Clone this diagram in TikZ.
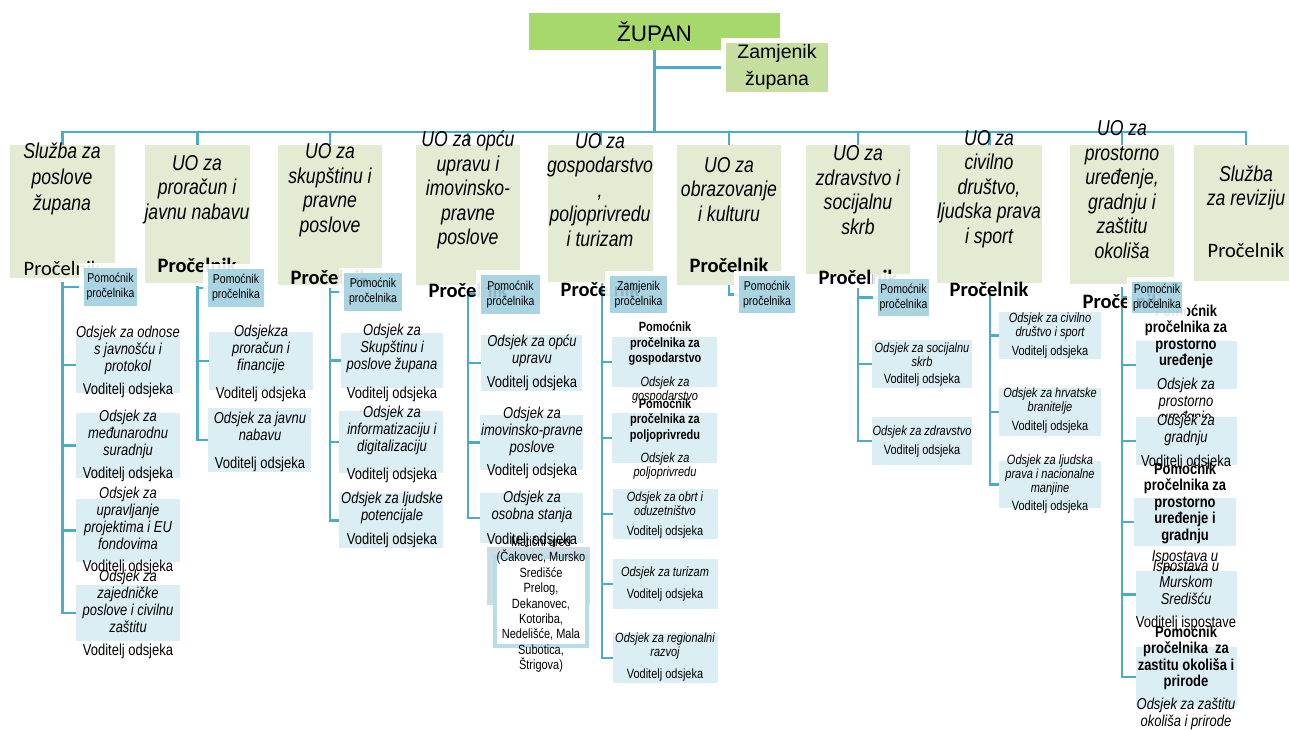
\documentclass[tikz,border=0pt]{standalone}
\usepackage{fontspec}
\setmainfont{Liberation Sans}[FakeStretch=0.82]
\newfontfamily\widefont{Liberation Sans}
\newfontfamily\calfont{Carlito}
\usetikzlibrary{backgrounds}
\definecolor{conncol}{RGB}{75,172,198}
\definecolor{topfill}{RGB}{227,235,211}
\definecolor{zupfill}{RGB}{166,216,108}
\definecolor{zamfill}{RGB}{198,222,160}
\definecolor{pfill}{RGB}{160,207,222}
\definecolor{cfill}{RGB}{219,238,243}
\definecolor{mborder}{RGB}{183,222,232}
\definecolor{hidfill}{RGB}{205,221,228}
\newcommand\cbox[5]{\node[cbx, minimum width={(#4)-(#2)}, minimum height={(#5)-(#3)}] (#1) at ({((#2)+(#4))/2},{((#3)+(#5))/2}) {};}
\newcommand\tbx[5]{\node[tbox, minimum width={(#4)-(#2)}, minimum height={(#5)-(#3)}] (#1) at ({((#2)+(#4))/2},{((#3)+(#5))/2}) {};}
\newcommand\pbx[6]{\node[pbox, minimum width={(#4)-(#2)}, minimum height={(#5)-(#3)}] (#1) at ({((#2)+(#4))/2},{((#3)+(#5))/2}) {#6};}
\begin{document}
\begin{tikzpicture}[x=1pt,y=-1pt,
 link/.style={draw=conncol, line width=2.2pt},
 tbox/.style={fill=topfill, inner sep=0, draw=none},
 cbx/.style={fill=cfill, inner sep=0, draw=none},
 ttl/.style={font=\itshape\fontsize{21.5}{24.5}\selectfont, align=center, inner sep=0},
 pro/.style={font=\calfont\bfseries\fontsize{20.5}{24}\selectfont, inner sep=0},
 proreg/.style={font=\calfont\fontsize{20.5}{24}\selectfont, inner sep=0},
 itA/.style={font=\itshape\fontsize{15.8}{17}\selectfont, align=center, inner sep=0},
 rgA/.style={font=\fontsize{15.8}{17}\selectfont, align=center, inner sep=0},
 itB/.style={font=\itshape\fontsize{13.4}{14}\selectfont, align=center, inner sep=0},
 rgB/.style={font=\fontsize{13.4}{14}\selectfont, align=center, inner sep=0},
 bfB/.style={font=\bfseries\fontsize{13.4}{15.5}\selectfont, align=center, inner sep=0},
 bfA/.style={font=\bfseries\fontsize{15.8}{16.5}\selectfont, align=center, inner sep=0},
 itC/.style={font=\itshape\fontsize{15.8}{16.5}\selectfont, align=center, inner sep=0},
 pbox/.style={fill=pfill, fill opacity=.88, text opacity=1, inner sep=0, align=center,
   font=\fontsize{12.8}{15}\selectfont, preaction={draw=white, draw opacity=.9, line width=10pt}},
]
\useasboundingbox (0,0) rectangle (1289,729);

% top
\node[fill=zupfill, inner sep=0, minimum width=251, minimum height=37,
  font=\widefont\fontsize{22.5}{26}\selectfont] (zupan) at (654.5,31.5) {ŽUPAN};
\node[fill=zamfill, inner sep=0, minimum width=102, minimum height=49,
  preaction={draw=white, line width=10pt}] (zam) at (777,67.5) {};
\node[font=\widefont\fontsize{19.5}{27}\selectfont, align=center, inner sep=0] (zamt) at (777,66.5) {Zamjenik\\župana};

% top-level boxes
\tbx{t1}{10}{145}{115}{278}
\tbx{t2}{145}{145}{250}{283}
\tbx{t3}{278}{145}{382}{285}
\tbx{t4}{416}{145}{520}{285}
\tbx{t5}{548}{145}{653}{282}
\tbx{t6}{677}{145}{781}{285}
\tbx{t7}{806}{145}{910}{274}
\tbx{t8}{937}{145}{1042}{283}
\tbx{t9}{1070}{145}{1174}{284}
\tbx{t10}{1194}{145}{1298}{281}

\node[ttl, font=\itshape\fontsize{21.5}{26}\selectfont] (tt1) at (62,179) {Služba za\\poslove\\župana};
\node[ttl] (tt2) at (197,189.5) {UO za\\proračun i\\javnu nabavu};
\node[ttl] (tt3) at (330,190) {UO za\\skupštinu i\\pravne\\poslove};
\node[ttl] (tt4) at (468,190) {UO za opću\\upravu i\\imovinsko-\\pravne\\poslove};
\node[ttl] (tt5) at (600,190) {UO za\\gospodarstvo\\,\\poljoprivredu\\i turizam};
\node[ttl] (tt6) at (729,189.5) {UO za\\obrazovanje\\i kulturu};
\node[ttl] (tt7) at (858,190) {UO za\\zdravstvo i\\socijalnu\\skrb};
\node[ttl] (tt8) at (989,189) {UO za\\civilno\\društvo,\\ljudska prava\\i sport};
\node[ttl] (tt9) at (1122,189.5) {UO za\\prostorno\\uređenje,\\gradnju i\\zaštitu\\okoliša};
\node[ttl] (tt10) at (1246,188) {Služba\\za reviziju};

\node[proreg] (pr1) at (62,268) {Pročelnik};
\node[pro] (pr2) at (197,265) {Pročelnik};
\node[pro] (pr3) at (330,277) {Pročelnik};
\node[pro] (pr4) at (468,290) {Pročelnik};
\node[pro] (pr5) at (600,289) {Pročelnik};
\node[pro] (pr6) at (729,265) {Pročelnik};
\node[pro] (pr7) at (858,277) {Pročelnik};
\node[pro] (pr8) at (989,289) {Pročelnik};
\node[pro] (pr9) at (1122,301) {Pročelnik};
\node[proreg] (pr10) at (1246,250) {Pročelnik};

% column 1
\cbox{c1a}{76}{337}{180}{393}
\node[itA] at (128,350) {Odsjek za odnose\\s javnošću i\\protokol};
\node[rgA] at (128,390) {Voditelj odsjeka};
\cbox{c1b}{76}{413}{180}{478}
\node[itA] at (128,434) {Odsjek za\\međunarodnu\\suradnju};
\node[rgA] at (128,474) {Voditelj odsjeka};
\cbox{c1c}{76}{499}{180}{562}
\node[itA] at (128,518.5) {Odsjek za\\upravljanje\\projektima i EU\\fondovima};
\node[rgA] at (128,567) {Voditelj odsjeka};
\cbox{c1d}{76}{585}{180}{641}
\node[itA] at (128,601) {Odsjek za\\zajedničke\\poslove i civilnu\\zaštitu};
\node[rgA] at (128,651) {Voditelj odsjeka};

% column 2
\cbox{c2a}{209}{332}{313}{390}
\node[itA] at (261,349) {Odsjekza\\proračun i\\financije};
\node[rgA] at (261,394) {Voditelj odsjeka};
\cbox{c2b}{208}{408}{311}{472}
\node[itA] at (260,426.5) {Odsjek za javnu\\nabavu};
\node[rgA] at (260,464) {Voditelj odsjeka};

% column 3
\cbox{c3a}{341}{333}{443}{388}
\node[itA] at (392,348) {Odsjek za\\Skupštinu i\\poslove župana};
\node[rgA] at (392,394) {Voditelj odsjeka};
\cbox{c3b}{339}{411}{443}{473}
\node[itA] at (392,430) {Odsjek za\\informatizaciju i\\digitalizaciju};
\node[rgA] at (392,475) {Voditelj odsjeka};
\cbox{c3c}{339}{493}{443}{548}
\node[itA] at (392,508) {Odsjek za ljudske\\potencijale};
\node[rgA] at (392,540) {Voditelj odsjeka};

% column 4
\cbox{c4a}{481}{335}{582}{391}
\node[itA] at (532,350.5) {Odsjek za opću\\upravu};
\node[rgA] at (532,383) {Voditelj odsjeka};
\cbox{c4b}{480}{415}{583}{470}
\node[itA] at (532,431) {Odsjek za\\imovinsko-pravne\\poslove};
\node[rgA] at (532,471) {Voditelj odsjeka};
\cbox{c4c}{480}{493}{583}{543}
\node[itA] at (532,506.5) {Odsjek za\\osobna stanja};
\node[rgA] at (532,540) {Voditelj odsjeka};
\node[fill=hidfill, inner sep=0, minimum width=103, minimum height=58] (hid) at (538.5,576) {};
\node[draw=mborder, line width=4pt, fill=white, minimum width=92, minimum height=89, inner sep=0] (mat) at (541,601.5) {};
\node[rgB, font=\fontsize{13.4}{15.4}\selectfont] (matt) at (541,604.5) {Matični ured\\(Čakovec, Mursko\\Središće\\Prelog,\\Dekanovec,\\Kotoriba,\\Nedelišće, Mala\\Subotica,\\Štrigova)};

% column 5
\cbox{c5a}{612}{337}{717}{387}
\node[bfB] at (665,343.5) {Pomoćnik\\pročelnika za\\gospodarstvo};
\node[itB] at (665,390) {Odsjek za\\gospodarstvo};
\cbox{c5b}{612}{413}{717}{463}
\node[bfB] at (665,420) {Pomoćnik\\pročelnika za\\poljoprivredu};
\node[itB] at (665,466) {Odsjek za\\poljoprivredu};
\cbox{c5c}{613}{489}{718}{539}
\node[itB] at (665,503.5) {Odsjek za obrt i\\oduzetništvo};
\node[rgB] at (665,532) {Voditelj odsjeka};
\cbox{c5d}{613}{559}{718}{609}
\node[itB] at (665,573) {Odsjek za turizam};
\node[rgB] at (665,595) {Voditelj odsjeka};
\cbox{c5e}{613}{633}{718}{683}
\node[itB] at (665,646) {Odsjek za regionalni\\razvoj};
\node[rgB] at (665,675) {Voditelj odsjeka};

% column 7
\cbox{c7a}{872}{340}{972}{388}
\node[itB] at (922,355) {Odsjek za socijalnu\\skrb};
\node[rgB] at (922,380) {Voditelj odsjeka};
\cbox{c7b}{872}{417}{972}{465}
\node[itB] at (922,432) {Odsjek za zdravstvo};
\node[rgB] at (922,451) {Voditelj odsjeka};

% column 8
\cbox{c8a}{999}{312}{1101}{359}
\node[itB] at (1050,326) {Odsjek za civilno\\društvo i sport};
\node[rgB] at (1050,352) {Voditelj odsjeka};
\cbox{c8b}{999}{388}{1101}{436}
\node[itB] at (1050,401.5) {Odsjek za hrvatske\\branitelje};
\node[rgB] at (1050,427) {Voditelj odsjeka};
\cbox{c8c}{999}{461}{1101}{508}
\node[itB] at (1050,475) {Odsjek za ljudska\\prava i nacionalne\\manjine};
\node[rgB] at (1050,507) {Voditelj odsjeka};

% column 9
\cbox{c9a}{1136}{341}{1237}{389}
\node[bfA] at (1186,337) {Pomoćnik\\pročelnika za\\prostorno\\uređenje};
\node[itC] at (1186,402) {Odsjek za\\prostorno\\uređenje};
\cbox{c9b}{1136}{417}{1237}{465}
\node[itC] at (1186,430) {Odsjek za\\gradnju};
\node[rgA] at (1186,462) {Voditelj odsjeka};
\cbox{c9c}{1134}{498}{1236}{546}
\node[bfA] at (1185,503) {Pomoćnik\\pročelnika za\\prostorno\\uređenje i\\gradnju};
\node[itC] at (1185,565.5) {Ispostava u\\Prelogu};
\cbox{c9d}{1136}{571}{1237}{618}
\node[itC] at (1186,582.5) {Ispostava u\\Murskom\\Središću};
\node[rgA] at (1186,623) {Voditelj ispostave};
\cbox{c9e}{1136}{647}{1237}{707}
\node[bfA] at (1186,658) {Pomoćnik\\pročelnika \ za\\zastitu okoliša i\\prirode};
\node[itC] at (1186,714) {Odsjek za zaštitu\\okoliša i prirode};

% assistant boxes
\pbx{p1}{84}{268}{137}{306}{Pomoćnik\\pročelnika}
\pbx{p2}{208}{269}{264}{307}{Pomoćnik\\pročelnika}
\pbx{p3}{344}{273}{402}{311}{Pomoćnik\\pročelnika}
\pbx{p4}{481}{275}{540}{314}{Pomoćnik\\pročelnika}
\pbx{z5}{610}{276}{667}{313}{Zamjenik\\pročelnika}
\pbx{p6}{739}{276}{795}{313}{Pomoćnik\\pročelnika}
\pbx{p7}{878}{279}{929}{316}{Pomoćnik\\pročelnika}
\pbx{p9}{1132}{282}{1182}{313}{Pomoćnik\\pročelnika}

% connectors
\begin{pgfonlayer}{background}
\fill[white] (0,0) rectangle (1289,729);
\foreach \t in {t1,t2,t3,t4,t5,t6,t7,t8,t9,t10}
  \draw[link] (zupan.south) -- ++(0,82) -| (\t.north);
\draw[link] (zupan.south) |- (zam.west);
\coordinate (r1) at (62.5,282);
\coordinate (r2) at (197.5,286);
\coordinate (r3) at (330,288);
\coordinate (r4) at (468,292);
\coordinate (r5) at (602,283);
\coordinate (r6) at (729,285);
\coordinate (r7) at (858,288);
\coordinate (r8) at (990,292);
\coordinate (r9) at (1122,287);
\foreach \c in {p1,c1a,c1b,c1c,c1d} \draw[link] (r1) |- (\c.west);
\foreach \c in {p2,c2a,c2b} \draw[link] (r2) |- (\c.west);
\foreach \c in {p3,c3a,c3b,c3c} \draw[link] (r3) |- (\c.west);
\foreach \c in {p4,c4a,c4b,c4c} \draw[link] (r4) |- (\c.west);
\foreach \c in {z5,c5a,c5b,c5c,c5d,c5e} \draw[link] (r5) |- (\c.west);
\draw[link] (r6) |- (p6.west);
\foreach \c in {p7,c7a,c7b} \draw[link] (r7) |- (\c.west);
\foreach \c in {c8a,c8b,c8c} \draw[link] (r8) |- (\c.west);
\foreach \c in {p9,c9a,c9b,c9c,c9d,c9e} \draw[link] (r9) |- (\c.west);
\end{pgfonlayer}
\end{tikzpicture}
\end{document}
